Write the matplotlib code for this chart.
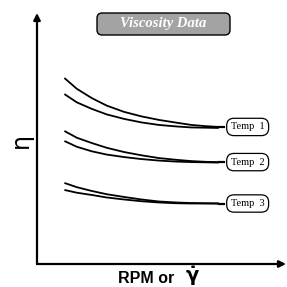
import matplotlib
matplotlib.use("Agg")
import matplotlib.pyplot as plt
from matplotlib.patches import FancyBboxPatch

plt.rcParams['mathtext.default'] = 'bf'

W = 287.0

# viscosity curves (arbitrary units, 0-100)
rpm = [11, 16, 22, 28, 35, 42, 49, 56, 62, 68, 73]

temp1_a = [74.1, 69.8, 66.1, 63.1, 60.6, 58.8, 57.4, 56.3, 55.4, 54.9, 54.6]
temp1_b = [67.7, 64.4, 61.8, 59.6, 57.8, 56.4, 55.4, 54.8, 54.4, 54.3, 54.2]
temp2_a = [53.0, 50.3, 48.2, 46.3, 44.6, 43.3, 42.2, 41.5, 41.0, 40.7, 40.6]
temp2_b = [49.0, 46.7, 44.9, 43.6, 42.6, 41.8, 41.2, 40.8, 40.6, 40.5, 40.4]
temp3_a = [32.3, 30.6, 29.1, 27.8, 26.7, 25.7, 24.9, 24.5, 24.3, 24.2, 24.1]
temp3_b = [29.5, 28.4, 27.5, 26.5, 25.7, 25.0, 24.5, 24.2, 24.1, 24.1, 24.1]

labels = ["Temp  1", "Temp  2", "Temp  3"]
pairs = [(temp1_a, temp1_b), (temp2_a, temp2_b), (temp3_a, temp3_b)]

fig = plt.figure(figsize=(2.87, 2.87), dpi=100)
ax = fig.add_axes([37 / W, 23 / W, 249 / W, 251 / W])
ax.set_xlim(0, 100)
ax.set_ylim(0, 100)
ax.axis('off')

# axes with arrow heads
arrow = dict(arrowstyle='-|>', lw=1.6, color='black', mutation_scale=10,
             shrinkA=0, shrinkB=0)
ax.annotate('', xy=(0, 1), xytext=(0, 0), xycoords='axes fraction', arrowprops=arrow)
ax.annotate('', xy=(1, 0), xytext=(0, 0), xycoords='axes fraction', arrowprops=arrow)

for (a, b), lab in zip(pairs, labels):
    ax.plot(rpm, a, color='black', lw=1.3, solid_capstyle='butt')
    ax.plot(rpm, b, color='black', lw=1.3, solid_capstyle='butt')
    ax.plot([rpm[-1], 75], [a[-1], a[-1]], color='black', lw=1.6)
    ax.text(84.6, a[-1], lab, ha='center', va='center', fontsize=7.5,
            family='Liberation Serif',
            bbox=dict(boxstyle='round,pad=0.4,rounding_size=0.7',
                      facecolor='white', edgecolor='black', lw=0.9))

# title box
fig.add_artist(FancyBboxPatch((97 / W, 1 - 35 / W), 133 / W, 22 / W,
                              boxstyle='round,pad=0,rounding_size=0.018',
                              transform=fig.transFigure, facecolor='#a3a3a3',
                              edgecolor='black', lw=1.0))
fig.text(163.5 / W, 1 - 24 / W, 'Viscosity Data', ha='center', va='center',
         color='white', fontsize=10.5, fontweight='bold', style='italic',
         family='Liberation Serif')

fig.text(21 / W, 1 - 140 / W, 'η', rotation=90, ha='center', va='center',
         fontsize=17, family='DejaVu Sans')
fig.text(118 / W, 1 - 283 / W, 'RPM or', ha='left', va='baseline',
         fontsize=11.5, fontweight='bold', family='Liberation Sans')
fig.text(185 / W, 1 - 282 / W, r'$\dot{\gamma}$', ha='left', va='baseline',
         fontsize=14)

fig.savefig('out.png', dpi=100)
